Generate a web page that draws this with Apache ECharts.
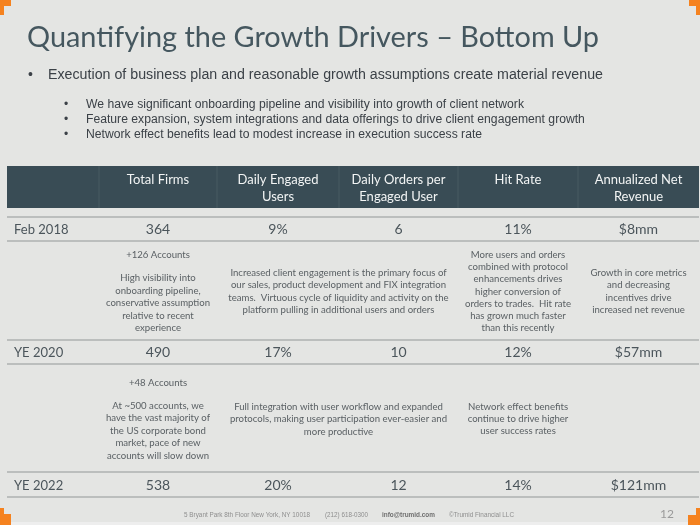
<!DOCTYPE html>
<html><head><meta charset="utf-8">
<script src="https://cdn.jsdelivr.net/npm/echarts@6/dist/echarts.min.js"></script>
<style>html,body{margin:0;padding:0;background:#e4e5e3}#c{width:700px;height:525px}</style>
</head><body><div id="c"></div>
<script>
// ---------- data ----------
var titleText = 'Quantifying the Growth Drivers \u2013 Bottom Up';
var mainBullet = 'Execution of business plan and reasonable growth assumptions create material revenue';
var subBullets = [
  'We have significant onboarding pipeline and visibility into growth of client network',
  'Feature expansion, system integrations and data offerings to drive client engagement growth',
  'Network effect benefits lead to modest increase in execution success rate'
];
var headers = ['Total Firms', 'Daily Engaged\nUsers', 'Daily Orders per\nEngaged User', 'Hit Rate', 'Annualized Net\nRevenue'];
var rowLabels = ['Feb 2018', 'YE 2020', 'YE 2022'];
var totalFirms = ['364', '490', '538'];
var dailyEngaged = ['9%', '17%', '20%'];
var dailyOrders = ['6', '10', '12'];
var hitRate = ['11%', '12%', '14%'];
var netRevenue = ['$8mm', '$57mm', '$121mm'];
var firmsAdds = ['+126 Accounts', '+48 Accounts'];
var firmsNotes = [
  'High visibility into\nonboarding pipeline,\nconservative assumption\nrelative to recent\nexperience',
  'At ~500 accounts, we\nhave the vast majority of\nthe US corporate bond\nmarket, pace of new\naccounts will slow down'
];
var engagementNotes = [
  'Increased client engagement is the primary focus of\nour sales, product development and FIX integration\nteams.  Virtuous cycle of liquidity and activity on the\nplatform pulling in additional users and orders',
  'Full integration with user workflow and expanded\nprotocols, making user participation ever-easier and\nmore productive'
];
var hitRateNotes = [
  'More users and orders\ncombined with protocol\nenhancements drives\nhigher conversion of\norders to trades.  Hit rate\nhas grown much faster\nthan this recently',
  'Network effect benefits\ncontinue to drive higher\nuser success rates'
];
var revenueNotes = [
  'Growth in core metrics\nand decreasing\nincentives drive\nincreased net revenue',
  ''
];
var footerItems = ['5 Bryant Park 8th Floor New York, NY 10018', '(212) 618-0300', 'info@trumid.com', '\u00A9Trumid Financial LLC'];
var pageNumber = '12';

// ---------- layout ----------
var colEdges = [7, 99, 217, 339, 458, 578, 699];
var headerBand = [166, 208];
var rowBands = [[217, 241], [340, 364], [472, 497]];
var noteBands = [[241, 340], [364, 472]];
var C = {
  title: '#45575f', text: '#3b4147', cell: '#4b555b', note: '#5a6064',
  header: '#394c55', rule: '#aeb1b1', orange: '#f5821f', foot: '#8e8e8e'
};
var TF = 'Lato, "Open Sans", sans-serif';
var BF = '"Liberation Sans", Arial, sans-serif';

var mctx = document.createElement('canvas').getContext('2d');
function fitScale(s, font, w) { mctx.font = font; var m = mctx.measureText(s).width; return m > 0 ? w / m : 1; }

function txt(x, y, s, font, fill, align, extra) {
  var e = {type: 'text', x: x, y: y, silent: true,
    style: {text: s, x: 0, y: 0, font: font, fill: fill,
      align: align || 'left', textAlign: align || 'left',
      verticalAlign: 'middle', textVerticalAlign: 'middle'}};
  if (extra) for (var k in extra) e[k] = extra[k];
  return e;
}
function fitTxt(x, y, s, font, fill, w) {
  return txt(x, y, s, font, fill, 'left', {scaleX: fitScale(s, font, w)});
}
function colCenter(i) { return (colEdges[i] + colEdges[i + 1]) / 2; }
function linesBlock(cx, cy, s, lh, font, fill) {
  var ls = s ? s.split('\n') : [];
  var out = [];
  var y0 = cy - (ls.length - 1) * lh / 2;
  ls.forEach(function (l, i) { out.push(txt(cx, y0 + i * lh, l, font, fill, 'center')); });
  return out;
}

// ---------- decoration (graphic) ----------
var g = [];
g.push({type: 'rect', shape: {x: 0, y: 0, width: 11, height: 6}, style: {fill: C.orange}});
g.push({type: 'rect', shape: {x: 0, y: 0, width: 4, height: 15}, style: {fill: C.orange}});
g.push({type: 'rect', shape: {x: 689, y: 0, width: 11, height: 6}, style: {fill: C.orange}});
g.push({type: 'rect', shape: {x: 696, y: 0, width: 4, height: 15}, style: {fill: C.orange}});
g.push({type: 'rect', shape: {x: 0, y: 508, width: 4, height: 17}, style: {fill: C.orange}});
g.push({type: 'rect', shape: {x: 0, y: 514, width: 11, height: 11}, style: {fill: C.orange}});
g.push({type: 'rect', shape: {x: 696, y: 508, width: 4, height: 17}, style: {fill: C.orange}});
g.push({type: 'rect', shape: {x: 688, y: 515, width: 12, height: 10}, style: {fill: C.orange}});
// title & bullets
g.push(fitTxt(27, 38, titleText, '400 28px ' + TF, C.title, 572));
g.push(txt(28, 75, '\u2022', '14px ' + BF, C.text));
g.push(fitTxt(48, 75, mainBullet, '14px ' + BF, C.text, 555));
var subScale = fitScale(subBullets[0], '12px ' + BF, 438);
subBullets.forEach(function (s, i) {
  var y = 104.5 + i * 15.3;
  g.push(txt(64, y, '\u2022', '12px ' + BF, C.text));
  g.push(txt(86, y, s, '12px ' + BF, C.text, 'left', {scaleX: subScale}));
});
// footer
var fx = [184, 325, 382, 449];
var fw = [126, 43, 53, 65];
footerItems.forEach(function (s, i) {
  g.push(fitTxt(fx[i], 515, s, (i === 2 ? 'bold ' : '') + '6.5px ' + BF, i === 2 ? '#6f6f6f' : C.foot, fw[i]));
});
g.push(txt(667, 514, pageNumber, '12px ' + TF, '#9a9a9a', 'center'));
g.push({type: 'rect', shape: {x: 0, y: 522, width: 700, height: 3}, style: {fill: '#eeeeee'}, z: -1});

// ---------- table series (custom) ----------
var headerSeries = {
  type: 'custom', coordinateSystem: 'none', silent: true,
  data: [0],
  renderItem: function () {
    var ch = [{type: 'rect', shape: {x: colEdges[0], y: headerBand[0], width: colEdges[6] - colEdges[0], height: headerBand[1] - headerBand[0]},
      style: {fill: C.header}}];
    for (var i = 1; i < colEdges.length - 1; i++) {
      ch.push({type: 'line', shape: {x1: colEdges[i], y1: headerBand[0], x2: colEdges[i], y2: headerBand[1]},
        style: {stroke: '#485b63', lineWidth: 1}});
    }
    headers.forEach(function (h, i) {
      h.split('\n').forEach(function (l, j) {
        ch.push(txt(colCenter(i + 1), 180 + j * 17, l, '13px ' + TF, '#f2f4f4', 'center'));
      });
    });
    return {type: 'group', children: ch};
  }
};
var rowSeries = {
  type: 'custom', coordinateSystem: 'none', silent: true,
  data: rowLabels.map(function (r, i) { return i; }),
  renderItem: function (params) {
    var i = params.dataIndex;
    var b = rowBands[i];
    var cy = (b[0] + b[1]) / 2 + 0.5;
    var ch = [];
    [b[0], b[1]].forEach(function (y) {
      ch.push({type: 'line', shape: {x1: colEdges[0], y1: y, x2: colEdges[6], y2: y}, style: {stroke: C.rule, lineWidth: 1.6}});
    });
    ch.push(txt(14, cy, rowLabels[i], '14px ' + TF, C.cell, 'left', {scaleX: 0.93}));
    [totalFirms, dailyEngaged, dailyOrders, hitRate, netRevenue].forEach(function (arr, k) {
      ch.push(txt(colCenter(k + 1), cy, arr[i], '14px ' + TF, C.cell, 'center'));
    });
    return {type: 'group', children: ch};
  }
};
var noteSeries = {
  type: 'custom', coordinateSystem: 'none', silent: true,
  data: firmsAdds.map(function (r, i) { return i; }),
  renderItem: function (params) {
    var i = params.dataIndex;
    var b = noteBands[i];
    var cy = (b[0] + b[1]) / 2 + 1;
    var f = '9.6px ' + TF;
    var ch = [];
    var nl = firmsNotes[i].split('\n').length;
    var lh = 12.5, gap = 23;
    var blockH = gap + (nl - 1) * lh;
    var top = cy - blockH / 2;
    ch.push(txt(colCenter(1), top, firmsAdds[i], f, C.note, 'center'));
    ch = ch.concat(linesBlock(colCenter(1), top + gap + (nl - 1) * lh / 2, firmsNotes[i], lh, f, C.note));
    ch = ch.concat(linesBlock((colEdges[2] + colEdges[4]) / 2 + 1, cy, engagementNotes[i], lh, f, C.note));
    ch = ch.concat(linesBlock(colCenter(4), cy, hitRateNotes[i], 12.2, f, C.note));
    ch = ch.concat(linesBlock(colCenter(5), cy, revenueNotes[i], 12.3, f, C.note));
    return {type: 'group', children: ch};
  }
};

var chart = echarts.init(document.getElementById('c'), null, {renderer: 'canvas'});
chart.setOption({
  backgroundColor: '#e4e5e3',
  animation: false,
  graphic: g,
  series: [headerSeries, rowSeries, noteSeries]
});
</script></body></html>
